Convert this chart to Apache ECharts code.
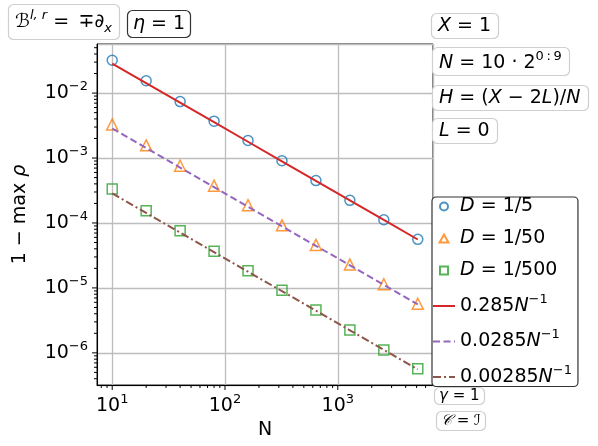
<!DOCTYPE html>
<html>
<head>
<meta charset="utf-8">
<script src="https://cdn.jsdelivr.net/npm/echarts@6/dist/echarts.min.js"></script>
<style>
  html, body { margin: 0; padding: 0; background: #fff; }
  #chart { width: 598px; height: 446px; }
</style>
</head>
<body>
<div id="chart"></div>
<script>
// grid points N = 10 * 2^(0:9)
const nValues = [10, 20, 40, 80, 160, 320, 640, 1280, 2560, 5120]
// measured 1 - max rho
const d5 = [0.032, 0.0155, 0.0074, 0.0037, 0.00186, 0.00091, 0.000449, 0.000223, 0.000112, 0.000056]
const d50 = [0.00329, 0.00157, 0.00076, 0.000375, 0.000188, 0.000092, 0.000046, 0.0000229, 0.0000114, 0.0000057]
const d500 = [0.000333, 0.000154, 0.000076, 0.0000367, 0.0000183, 0.0000092, 0.00000457, 0.00000224, 0.00000111, 0.00000057]
// reference slopes
const ref285 = [0.0285, 0.01425, 0.007125, 0.0035625, 0.00178125, 0.000890625, 0.0004453, 0.0002227, 0.0001113, 0.00005566]
const ref0285 = [0.00285, 0.001425, 0.0007125, 0.00035625, 0.000178125, 0.0000890625, 0.00004453, 0.00002227, 0.00001113, 0.000005566]
const ref00285 = [0.000285, 0.0001425, 0.00007125, 0.000035625, 0.0000178125, 0.00000890625, 0.000004453, 0.000002227, 0.000001113, 0.0000005566]

const legendNames = ['D = 1/5', 'D = 1/50', 'D = 1/500', '0.285N^-1', '0.0285N^-1', '0.00285N^-1']
const xMin = 7.33, xMax = 6985
const yMin = 3.2e-7, yMax = 0.057

// tick positions (decades + 2..9 minors)
const xTicks = [], yTicks = []
for (let e = 0; e <= 3; e++) {
  for (let m = 1; m <= 9; m++) {
    const v = m * Math.pow(10, e)
    if (v >= xMin && v <= xMax) xTicks.push([v, yMin, m === 1 ? 5 : 3])
  }
}
for (let e = -7; e <= -2; e++) {
  for (let m = 1; m <= 9; m++) {
    const v = m * Math.pow(10, e)
    if (v >= yMin && v <= yMax) yTicks.push([xMin, v, m === 1 ? 5 : 3])
  }
}

const FONT = 'DejaVu Sans'
const base = { fontFamily: FONT, fontWeight: 'normal', color: '#000' }
const rich = {
  n: Object.assign({ fontSize: 19, lineHeight: 26 }, base),
  i: Object.assign({ fontSize: 19, lineHeight: 26, fontStyle: 'italic' }, base),
  sup: Object.assign({ fontSize: 13, lineHeight: 14, verticalAlign: 'top' }, base),
  supi: Object.assign({ fontSize: 13, lineHeight: 14, verticalAlign: 'top', fontStyle: 'italic' }, base),
  subi: Object.assign({ fontSize: 13, lineHeight: 14, verticalAlign: 'bottom', fontStyle: 'italic' }, base),
  sn: Object.assign({ fontSize: 15, lineHeight: 18 }, base),
  si: Object.assign({ fontSize: 15, lineHeight: 18, fontStyle: 'italic' }, base)
}

function legendLabel(name) {
  if (name.indexOf('D') === 0) return '{i|D}{n| = ' + name.slice(4) + '}'
  return '{n|' + name.replace('N^-1', '') + '}{i|N}{sup|−1}'
}

function decadeLabel(v) {
  const lg = Math.log10(v)
  const e = Math.round(lg)
  if (Math.abs(lg - e) > 1e-6) return ''
  return '{n|10}{sup|' + (e < 0 ? '−' : '') + Math.abs(e) + '}'
}

function box(text, left, top, opts) {
  return Object.assign({
    text: text,
    left: left,
    top: top,
    padding: [3, 8, 3, 7],
    backgroundColor: '#fff',
    borderColor: '#cfcfcf',
    borderWidth: 1.2,
    borderRadius: 5,
    textStyle: { fontWeight: 'normal', fontFamily: FONT, rich: rich }
  }, opts || {})
}

const chart = echarts.init(document.getElementById('chart'))
const option = {
  animation: false,
  backgroundColor: '#fff',
  title: [
    box('{i|ℬ}{supi|l, r}{n| =\u2002∓∂}{subi|x}', 8, 4, { padding: [5, 8, 5, 7] }),
    box('{i|η}{n| = 1}', 127, 7, { borderColor: '#333', padding: [4, 6, 4, 6] }),
    box('{i|X}{n| = 1}', 431, 10),
    box('{i|N}{n| = 10 · 2}{sup|0\u2009:\u20099}', 432, 47),
    box('{i|H}{n| = (}{i|X}{n| − 2}{i|L}{n|)/}{i|N}', 432, 82),
    box('{i|L}{n| = 0}', 432, 115),
    box('{si|γ}{sn| = 1}', 434, 386, { padding: [1, 5, 1, 5] }),
    box('{si|𝒞}{sn| = }{si|ℐ}', 436, 410, { padding: [2, 5, 2, 5] })
  ],
  grid: {
    left: 97, right: 165, top: 44, bottom: 61,
    show: true, borderColor: '#000', borderWidth: 1, backgroundColor: 'transparent'
  },
  legend: {
    orient: 'vertical',
    left: 432, top: 197,
    data: [
      { name: legendNames[0], icon: 'circle' },
      { name: legendNames[1], icon: 'path://M5,0L10,9L0,9Z' },
      { name: legendNames[2], icon: 'path://M0,0H10V10H0Z' },
      legendNames[3], legendNames[4], legendNames[5]
    ],
    itemWidth: 22, itemHeight: 8,
    itemGap: 13,
    symbolKeepAspect: true,
    padding: [0, 6, 0, 0],
    backgroundColor: '#fff',
    borderColor: '#333', borderWidth: 1.2, borderRadius: 4,
    formatter: legendLabel,
    textStyle: { rich: rich }
  },
  xAxis: {
    type: 'log', logBase: 10,
    min: xMin, max: xMax,
    name: 'N', nameLocation: 'middle', nameGap: 34,
    nameTextStyle: { fontFamily: FONT, fontSize: 19, color: '#000' },
    axisLine: { show: true, lineStyle: { color: '#000', width: 1 } },
    axisTick: { show: false },
    axisLabel: { formatter: decadeLabel, rich: rich, margin: 8, showMinLabel: true, showMaxLabel: true },
    splitLine: { show: true, lineStyle: { color: '#bdbdbd', width: 1.3 } }
  },
  yAxis: {
    type: 'log', logBase: 10,
    min: yMin, max: yMax,
    name: '{n|1 − max }{i|ρ}', nameLocation: 'middle', nameGap: 64, nameRotate: 90,
    nameTextStyle: { rich: rich },
    axisLine: { show: true, lineStyle: { color: '#000', width: 1 } },
    axisTick: { show: false },
    axisLabel: { formatter: decadeLabel, rich: rich, margin: 9 },
    splitLine: { show: true, lineStyle: { color: '#bdbdbd', width: 1.3 } }
  },
  series: [
    {
      name: '0.285N^-1', type: 'line', symbol: 'none',
      data: nValues.map((n, k) => [n, ref285[k]]),
      lineStyle: { color: '#d62728', width: 2 },
      itemStyle: { color: 'rgba(0,0,0,0)', borderWidth: 0 }
    },
    {
      name: '0.0285N^-1', type: 'line', symbol: 'none',
      data: nValues.map((n, k) => [n, ref0285[k]]),
      lineStyle: { color: '#9467bd', width: 2, type: [7, 3.5] },
      itemStyle: { color: 'rgba(0,0,0,0)', borderWidth: 0 }
    },
    {
      name: '0.00285N^-1', type: 'line', symbol: 'none',
      data: nValues.map((n, k) => [n, ref00285[k]]),
      lineStyle: { color: '#8c564b', width: 2, type: [8, 3, 2, 3] },
      itemStyle: { color: 'rgba(0,0,0,0)', borderWidth: 0 }
    },
    {
      name: 'D = 1/5', type: 'scatter', symbol: 'circle', symbolSize: 10,
      data: nValues.map((n, k) => [n, d5[k]]),
      itemStyle: { color: 'rgba(0,0,0,0)', borderColor: '#1f77b4', borderWidth: 1.5 }
    },
    {
      name: 'D = 1/50', type: 'scatter', symbol: 'triangle', symbolSize: 11,
      data: nValues.map((n, k) => [n, d50[k]]),
      itemStyle: { color: 'rgba(0,0,0,0)', borderColor: '#ff7f0e', borderWidth: 1.5 }
    },
    {
      name: 'D = 1/500', type: 'scatter', symbol: 'rect', symbolSize: 10,
      data: nValues.map((n, k) => [n, d500[k]]),
      itemStyle: { color: 'rgba(0,0,0,0)', borderColor: '#2ca02c', borderWidth: 1.5 }
    },
    {
      name: 'xticks', type: 'custom', silent: true, clip: false,
      data: xTicks,
      renderItem: function (params, api) {
        const p = api.coord([api.value(0), api.value(1)])
        return { type: 'line', shape: { x1: p[0], y1: p[1], x2: p[0], y2: p[1] + api.value(2) },
          style: { stroke: '#000', lineWidth: 1 } }
      }
    },
    {
      name: 'yticks', type: 'custom', silent: true, clip: false,
      data: yTicks,
      renderItem: function (params, api) {
        const p = api.coord([api.value(0), api.value(1)])
        return { type: 'line', shape: { x1: p[0], y1: p[1], x2: p[0] - api.value(2), y2: p[1] },
          style: { stroke: '#000', lineWidth: 1 } }
      }
    }
  ]
}
chart.setOption(option)
</script>
</body>
</html>
